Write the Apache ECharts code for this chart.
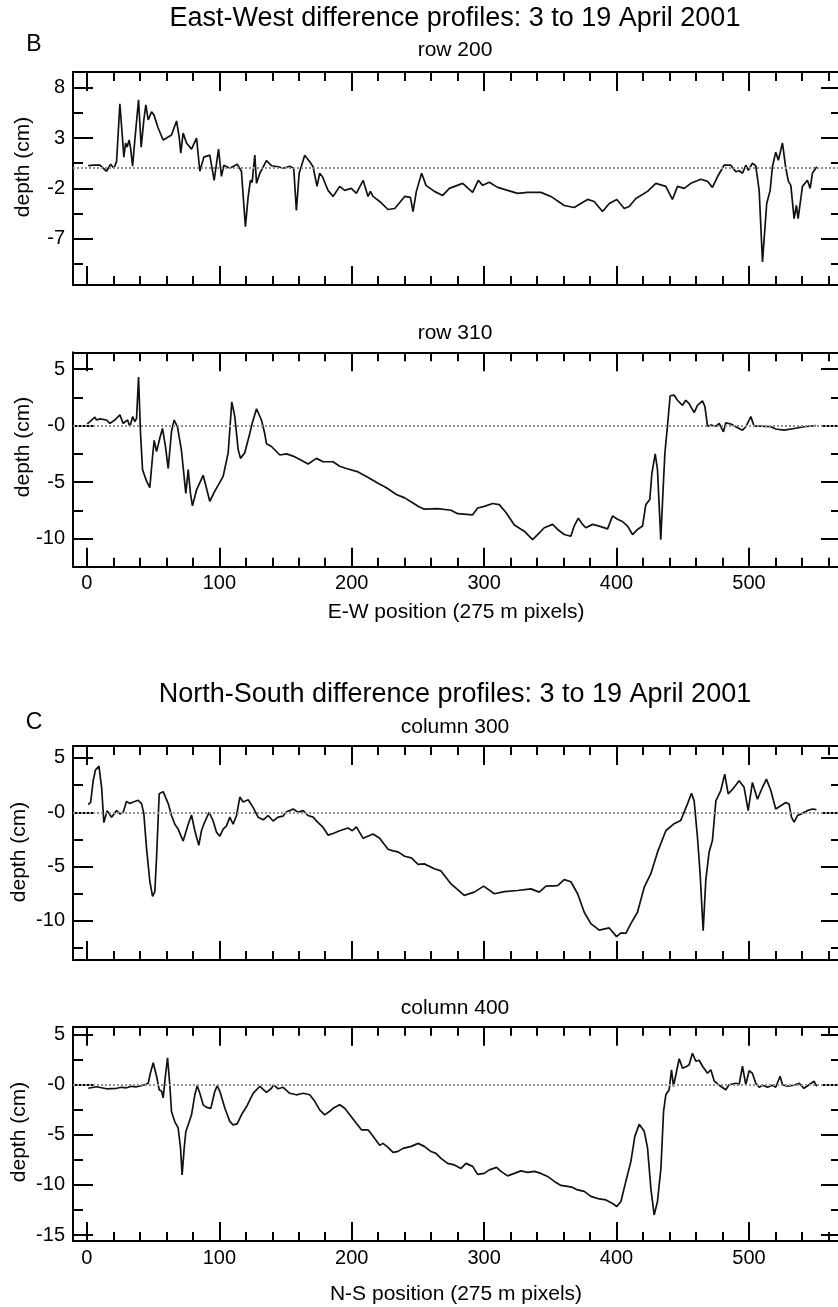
<!DOCTYPE html>
<html>
<head>
<meta charset="utf-8">
<script src="https://cdn.jsdelivr.net/npm/echarts@6/dist/echarts.min.js"></script>
<style>
html,body{margin:0;padding:0;background:#fff;}
#chart{width:838px;height:1307px;}
</style>
</head>
<body>
<div id="chart"></div>
<script>
// ---- data: [position, depth (cm)] ----
const row200 = [
[1.0,0.25],[4.8,0.3],[9.8,0.3],[14.8,-0.3],[17.9,0.4],[20.4,0],[22.4,0.65],[24.9,6.4],[26.4,3.8],[27.9,1.1],
[29.2,2.5],[30.4,2.1],[31.9,2.8],[33.0,2.0],[34.5,0.2],[36.2,2.8],[39.0,6.8],[41.0,2.1],[43.0,4.8],[44.5,6.3],
[46.3,4.8],[48.8,5.6],[50.6,5.3],[53.8,4.0],[57.6,2.8],[63.9,3.3],[67.7,4.7],[69.7,3.1],[70.9,1.5],[72.7,3.5],
[75.2,2.5],[79.0,1.9],[82.8,3.0],[85.3,-0.3],[88.3,1.1],[92.8,1.3],[96.1,-1.2],[99.4,1.9],[101.6,-0.8],[103.4,0.3],
[107.9,0],[113.5,0.4],[116.7,-0.3],[119.7,-5.8],[121.8,-2.8],[123.5,-1.2],[124.8,-1.4],[126.8,1.3],[128.1,-1.5],[130.6,-0.5],
[135.6,0.75],[139.4,0.25],[144.4,0.15],[148.2,0],[153.2,0.2],[156.2,0],[158.2,-4.2],[160.3,-0.5],[164.5,1.3],[168.3,0.65],
[170.8,0.15],[173.8,-1.8],[175.8,-0.5],[177.9,-0.85],[182.1,-2.2],[185.9,-2.8],[190.9,-1.8],[194.7,-2.2],[199.7,-2.0],[203.5,-2.5],
[208.6,-1.2],[212.3,-2.8],[214.1,-2.3],[216.1,-2.8],[221.1,-3.3],[227.4,-4.1],[232.5,-4.0],[240.0,-2.8],[244.3,-2.9],[246.3,-4.3],
[248.8,-2.3],[252.8,-0.5],[256.1,-1.7],[262.4,-2.3],[268.7,-2.7],[273.7,-2.0],[283.8,-1.5],[291.3,-2.4],[295.6,-1.2],[298.9,-1.7],
[303.9,-1.4],[310.2,-1.9],[317.7,-2.2],[325.3,-2.5],[332.8,-2.4],[342.9,-2.4],[350.4,-2.8],[360.5,-3.7],[368.0,-3.9],[378.1,-3.1],
[383.1,-3.3],[389.4,-4.3],[394.5,-3.5],[400.2,-3.1],[405.8,-4.0],[409.5,-3.8],[414.6,-3.0],[423.4,-2.3],[429.7,-1.5],[437.2,-1.8],
[442.2,-3.1],[446.0,-1.8],[451.1,-2.0],[456.1,-1.5],[463.6,-1.1],[468.7,-1.3],[472.4,-1.9],[476.2,-0.85],[481.2,0.3],[486.3,0.3],
[490.1,-0.35],[492.6,-0.25],[495.1,-0.5],[497.6,0.3],[499.6,-0.2],[502.6,0.5],[505.1,0.25],[507.7,-2.2],[510.2,-9.3],[513.4,-3.5],
[516.0,-2.2],[517.7,0.15],[520.2,1.6],[522.2,0.8],[525.3,2.5],[527.8,0],[529.8,-1.3],[531.6,-1.7],[534.1,-5.0],[535.8,-3.7],
[537.1,-5.0],[540.4,-1.8],[544.1,-1.2],[546.2,-2.0],[547.9,-0.5],[551.2,0.15]
];
const row310 = [
[0.25,0.15],[2.3,0.35],[6.0,0.75],[7.3,0.5],[9.8,0.6],[14.8,0.5],[17.4,0.2],[21.1,0.5],[24.9,0.95],[27.4,0.2],
[30.7,0.5],[32.5,-0.1],[34.5,0.8],[36.2,0.35],[37.5,0.65],[39.0,4.3],[40.5,-0.7],[42.0,-3.9],[45.0,-4.9],[46.3,-4.8],
[47.5,-5.5],[49.6,-2.7],[50.8,-1.3],[52.6,-2.3],[55.1,-1.1],[57.1,-0.25],[59.4,-1.9],[61.4,-3.8],[63.9,-0.5],[65.9,0.5],
[68.4,-0.1],[71.4,-2.2],[74.7,-6.0],[76.5,-3.9],[78.2,-6.0],[79.7,-7.1],[82.8,-5.7],[87.8,-4.4],[92.8,-6.7],[96.6,-5.8],
[102.9,-4.5],[106.7,-2.4],[109.4,2.1],[111.7,0.8],[114.2,-2.1],[116.0,-2.9],[119.2,-2.4],[123.0,-0.7],[124.8,0.2],[128.1,1.5],
[131.8,0.5],[134.3,-0.7],[135.6,-1.6],[139.4,-1.85],[145.7,-2.6],[150.7,-2.5],[155.7,-2.7],[160.8,-3.0],[167.0,-3.4],[173.3,-2.9],
[178.4,-3.2],[185.9,-3.2],[190.9,-3.6],[196.0,-3.8],[204.8,-4.1],[211.1,-4.5],[219.9,-5.1],[226.2,-5.5],[233.7,-6.1],[240.0,-6.4],
[246.3,-6.85],[250.1,-7.15],[254.8,-7.4],[264.9,-7.35],[275.0,-7.5],[280.0,-7.8],[291.3,-7.9],[295.1,-7.3],[300.1,-7.15],[306.4,-6.9],
[311.4,-7.0],[316.5,-7.7],[322.8,-8.8],[330.3,-9.35],[336.6,-10.1],[340.4,-9.65],[345.4,-9.05],[351.7,-8.75],[355.5,-9.2],[360.5,-9.65],
[365.5,-9.8],[368.0,-8.9],[371.1,-8.2],[374.3,-8.75],[376.8,-9.05],[381.9,-8.75],[386.9,-8.9],[393.2,-9.15],[397.0,-8.0],[400.7,-8.3],
[404.5,-8.5],[408.3,-8.9],[412.1,-9.65],[415.8,-9.2],[419.6,-8.9],[422.1,-7.0],[425.1,-6.55],[426.7,-4.2],[429.2,-2.5],[430.9,-3.9],
[433.4,-10.1],[435.0,-6.0],[436.5,-2.45],[438.5,0.05],[440.5,2.65],[443.5,2.7],[446.0,2.25],[449.8,1.8],[452.3,2.25],[454.8,1.95],
[458.6,1.15],[461.1,1.8],[464.9,2.2],[466.7,1.7],[468.7,-0.05],[471.2,0.05],[475.0,-0.05],[477.5,0.2],[480.7,-0.55],[482.5,0.25],
[486.3,0.15],[490.0,-0.1],[495.1,-0.4],[497.6,-0.1],[501.4,0.8],[503.9,-0.05],[509.0,-0.05],[516.5,-0.1],[520.2,-0.3],[526.5,-0.4],
[534.1,-0.25],[541.6,-0.1],[550.4,0]
];
const col300 = [
[1.0,0.7],[2.8,0.9],[4.8,2.95],[6.5,3.9],[9.1,4.25],[11.1,2.3],[12.8,-0.95],[15.3,0.15],[18.6,-0.45],[22.4,0.15],
[24.9,-0.15],[27.4,0],[29.9,1.0],[32.5,0.8],[35.0,0.95],[38.7,1.1],[41.3,0.8],[43.0,-0.15],[45.0,-3.25],[47.5,-6.35],
[49.6,-7.75],[51.3,-7.3],[52.6,-4.2],[54.6,1.7],[57.6,1.9],[61.4,0.8],[63.9,-0.3],[66.4,-1.1],[68.9,-1.55],[70.2,-1.4],
[72.7,-2.65],[76.5,-1.1],[79.0,-0.25],[81.5,-1.7],[84.5,-3.05],[86.5,-1.7],[88.3,-1.1],[92.3,0],[95.3,-0.8],[97.9,-1.85],
[100.4,-2.2],[102.9,-1.55],[105.4,-1.25],[107.9,-0.45],[110.4,-1.1],[113.0,-0.3],[115.5,1.4],[118.0,0.95],[121.8,1.15],[125.5,0.45],
[129.3,-0.45],[133.1,-0.7],[136.9,-0.3],[140.6,-0.8],[144.4,-0.45],[148.2,-0.35],[150.7,0.05],[153.2,0.15],[155.7,0.3],[159.5,0],
[163.3,0.15],[167.0,-0.3],[170.8,-0.45],[174.6,-0.95],[178.4,-1.4],[182.1,-2.1],[185.9,-1.95],[190.9,-1.7],[197.2,-1.45],[200.5,-1.7],
[203.5,-1.35],[208.6,-2.4],[216.1,-2.0],[221.1,-2.4],[227.4,-3.4],[231.2,-3.55],[235.0,-3.65],[240.0,-4.05],[245.0,-4.2],[250.1,-4.8],
[254.8,-4.75],[262.4,-5.2],[267.4,-5.4],[275.0,-6.6],[285.0,-7.65],[292.6,-7.35],[299.6,-6.8],[307.7,-7.5],[315.2,-7.3],[325.3,-7.2],
[335.3,-7.05],[341.6,-7.35],[346.7,-6.8],[355.5,-6.75],[360.5,-6.2],[365.5,-6.4],[370.6,-7.5],[375.6,-9.2],[380.6,-10.25],[386.9,-10.85],
[394.5,-10.65],[400.0,-11.45],[403.3,-11.1],[407.0,-11.15],[410.8,-10.25],[415.8,-9.2],[420.9,-6.9],[425.9,-5.65],[431.0,-3.65],[437.2,-1.7],
[443.5,-1.05],[448.5,-0.75],[453.5,0.75],[456.6,1.75],[458.6,1.05],[461.1,-2.3],[463.1,-5.65],[465.4,-10.9],[467.4,-6.25],[469.9,-3.65],
[472.4,-2.6],[475.0,1.05],[478.7,2.0],[481.7,3.5],[484.3,1.7],[487.5,2.1],[492.6,2.9],[496.3,2.3],[499.4,0.15],[502.6,2.75],
[506.4,1.2],[510.2,2.3],[513.2,3.05],[516.5,2.0],[520.2,0.3],[524.0,0.6],[527.8,0.9],[530.3,0.75],[532.1,-0.45],[534.1,-0.9],
[536.6,-0.3],[540.4,-0.1],[544.1,0.15],[547.9,0.3],[550.9,0.25]
];
const col400 = [
[1.0,-0.35],[7.3,-0.2],[14.8,-0.4],[22.4,-0.35],[26.2,-0.25],[29.9,-0.3],[33.7,-0.15],[37.5,-0.2],[41.3,-0.1],[43.8,0],
[46.3,0.15],[48.0,1.2],[50.1,2.2],[52.6,0.85],[54.6,-0.5],[56.4,-0.65],[57.6,-1.3],[59.4,1.0],[60.9,2.7],[62.6,0],
[63.9,-2.7],[66.4,-3.7],[68.9,-4.3],[70.7,-6.3],[71.9,-9.0],[73.5,-6.3],[74.7,-4.7],[76.5,-4.0],[79.0,-3.0],[81.5,-1.0],
[83.3,-0.1],[85.3,-0.85],[87.8,-2.0],[90.3,-2.25],[93.6,-2.35],[96.6,-0.65],[98.4,-0.1],[100.4,-0.65],[104.2,-2.35],[107.9,-3.65],
[110.4,-4.0],[113.5,-3.9],[116.7,-3.0],[120.5,-2.2],[125.5,-0.85],[130.6,-0.15],[135.6,-0.75],[139.4,-0.35],[141.1,0],[144.4,-0.4],
[148.2,-0.25],[153.2,-0.85],[158.2,-1.0],[163.3,-0.85],[168.3,-1.0],[172.1,-1.65],[175.8,-2.5],[179.6,-3.0],[183.4,-2.65],[185.9,-2.35],
[190.9,-2.0],[194.7,-2.35],[198.5,-3.0],[202.3,-3.65],[207.3,-4.5],[212.3,-4.5],[216.1,-5.15],[221.1,-6.05],[223.6,-5.85],[227.4,-6.25],
[231.2,-6.75],[235.0,-6.65],[238.7,-6.35],[245.0,-6.15],[250.1,-5.85],[254.8,-6.15],[259.9,-6.67],[263.6,-6.85],[267.4,-7.35],[272.4,-7.85],
[277.5,-8.0],[282.5,-8.35],[286.3,-7.85],[291.3,-8.15],[295.1,-8.95],[300.1,-8.85],[303.9,-8.5],[309.4,-8.25],[312.7,-8.65],[317.7,-9.1],
[322.8,-8.85],[327.8,-8.6],[332.8,-8.75],[337.9,-8.65],[342.9,-8.85],[347.9,-9.15],[353.0,-9.65],[358.0,-10.05],[363.0,-10.15],[366.8,-10.25],
[370.6,-10.5],[375.6,-10.65],[380.6,-11.15],[386.9,-11.4],[392.0,-11.5],[397.0,-11.85],[400.2,-12.15],[403.3,-11.65],[407.0,-9.65],[410.8,-7.67],
[413.8,-5.15],[417.1,-3.95],[420.9,-4.65],[423.4,-6.3],[425.9,-10.35],[428.4,-13.0],[430.9,-11.65],[433.5,-8.35],[435.5,-2.65],[437.2,-1.0],
[439.7,-0.5],[441.5,1.5],[443.0,-0.15],[444.8,1.0],[447.3,2.6],[449.8,1.65],[453.1,1.85],[454.8,2.0],[457.3,3.15],[459.9,2.35],
[462.4,2.45],[464.9,1.85],[468.7,1.15],[471.2,1.5],[473.7,0.4],[477.5,-0.05],[482.5,-0.5],[485.0,0],[490.0,0.15],[492.6,0.05],
[495.1,1.85],[497.6,0],[500.1,1.4],[502.6,1.15],[505.1,0.15],[507.7,-0.25],[510.2,-0.05],[514.0,-0.25],[517.7,-0.05],[520.2,-0.25],
[523.5,0.85],[525.3,0],[529.0,-0.15],[534.1,-0.05],[537.9,0.15],[541.6,-0.35],[545.4,0],[549.2,0.35],[551.2,-0.15]
];

// ---- axis ticks ----
const xMajorTicks = [0, 100, 200, 300, 400, 500];
const xMinorTicks = [20,40,60,80,120,140,160,180,220,240,260,280,320,340,360,380,420,440,460,480,520,540,560];
const yMajorTicks = [[8, 3, -2, -7], [5, 0, -5, -10], [5, 0, -5, -10], [5, 0, -5, -10, -15]];
const yMinorTicks = [[5.5, 0.5, -4.5, -9.5], [2.5, -2.5, -7.5], [2.5, -2.5, -7.5, -12.5], [2.5, -2.5, -7.5, -12.5]];
const yMin = [-11.6, -12.5, -13.6, -15.6];
const yMax = [9.56, 6.5, 6.1, 5.8];
const xMin = -10.5, xMax = 569.5;

// ---- texts ----
const panelTitles = ['row 200', 'row 310', 'column 300', 'column 400'];
const mainTitles = ['East-West difference profiles: 3 to 19 April 2001', 'North-South difference profiles: 3 to 19 April 2001'];
const panelLetters = ['B', 'C'];
const xNames = ['E-W position (275 m pixels)', 'N-S position (275 m pixels)'];
const yName = 'depth (cm)';

const seriesData = [row200, row310, col300, col400];

// layout
const FONT = '"Liberation Sans", Arial, Helvetica, sans-serif';
const gridTops = [72, 352.3, 746, 1026.7];
const gridHeights = [213, 214.4, 214, 214.3];
const gridLeft = 73, gridWidth = 768;

const grids = [], xAxes = [], yAxes = [], series = [];
const black = '#000';
function fmtY(v){ return Math.abs(v) < 1e-9 ? '-0' : String(v); }

for (let g = 0; g < 4; g++) {
  grids.push({left: gridLeft, top: gridTops[g], width: gridWidth, height: gridHeights[g], outerBoundsMode: 'none', containLabel: false});
  const showXLabels = (g === 1 || g === 3);
  const xa = (pos, major, showLine) => ({
    gridIndex: g, type: 'value', min: xMin, max: xMax, position: pos,
    axisLine: {show: showLine, onZero: false, lineStyle: {color: black, width: 2}},
    axisTick: {show: true, inside: true, length: major ? 19 : 9, customValues: major ? xMajorTicks : xMinorTicks, lineStyle: {color: black, width: 2}},
    axisLabel: {show: major && pos === 'bottom' && showXLabels, customValues: xMajorTicks, margin: 7, fontSize: 20, color: black, fontFamily: FONT},
    splitLine: {show: false}
  });
  xAxes.push(xa('bottom', true, true), xa('bottom', false, false), xa('top', true, true), xa('top', false, false));
  const ya = (pos, major, showLine) => ({
    gridIndex: g, type: 'value', min: yMin[g], max: yMax[g], position: pos,
    axisLine: {show: showLine, onZero: false, lineStyle: {color: black, width: 2}},
    axisTick: {show: true, inside: true, length: major ? 20 : 10, customValues: major ? yMajorTicks[g] : yMinorTicks[g], lineStyle: {color: black, width: 2}},
    axisLabel: {show: major && pos === 'left', customValues: yMajorTicks[g], margin: 8, fontSize: 20, color: black, fontFamily: FONT, formatter: fmtY},
    splitLine: {show: false}
  });
  yAxes.push(ya('left', true, true), ya('left', false, false), ya('right', true, true), ya('right', false, false));
  series.push({
    type: 'line', xAxisIndex: 4 * g, yAxisIndex: 4 * g, data: seriesData[g],
    showSymbol: false, symbol: 'none', smooth: false,
    lineStyle: {color: '#111', width: 1.7},
    markLine: {silent: true, symbol: 'none', label: {show: false},
      lineStyle: {color: '#909090', width: 1.8, type: [2, 2]},
      data: [{yAxis: 0}]},
    z: 3
  });
}

const txt = (text, x, y, size, rotate) => ({
  type: 'text', x: x, y: y, rotation: rotate || 0,
  style: {text: text, fontSize: size, fontFamily: FONT, fill: black, textAlign: 'center', textVerticalAlign: 'middle'}
});
const graphics = [
  txt(mainTitles[0], 455, 19, 27),
  txt(panelLetters[0], 34, 45, 23),
  txt(panelTitles[0], 455, 50, 21),
  txt(panelTitles[1], 455, 333, 21),
  txt(xNames[0], 456, 612, 21),
  txt(mainTitles[1], 455, 695, 27),
  txt(panelLetters[1], 34, 723, 23),
  txt(panelTitles[2], 455, 727, 21),
  txt(panelTitles[3], 455, 1008, 21),
  txt(xNames[1], 456, 1294, 21),
  txt(yName, 23, 167, 21, Math.PI / 2),
  txt(yName, 23, 447, 21, Math.PI / 2),
  txt(yName, 19, 852, 21, Math.PI / 2),
  txt(yName, 19, 1132, 21, Math.PI / 2)
];

const chart = echarts.init(document.getElementById('chart'), null, {renderer: 'canvas'});
chart.setOption({
  animation: false,
  backgroundColor: '#fff',
  grid: grids,
  xAxis: xAxes,
  yAxis: yAxes,
  series: series,
  graphic: graphics
});
</script>
</body>
</html>
